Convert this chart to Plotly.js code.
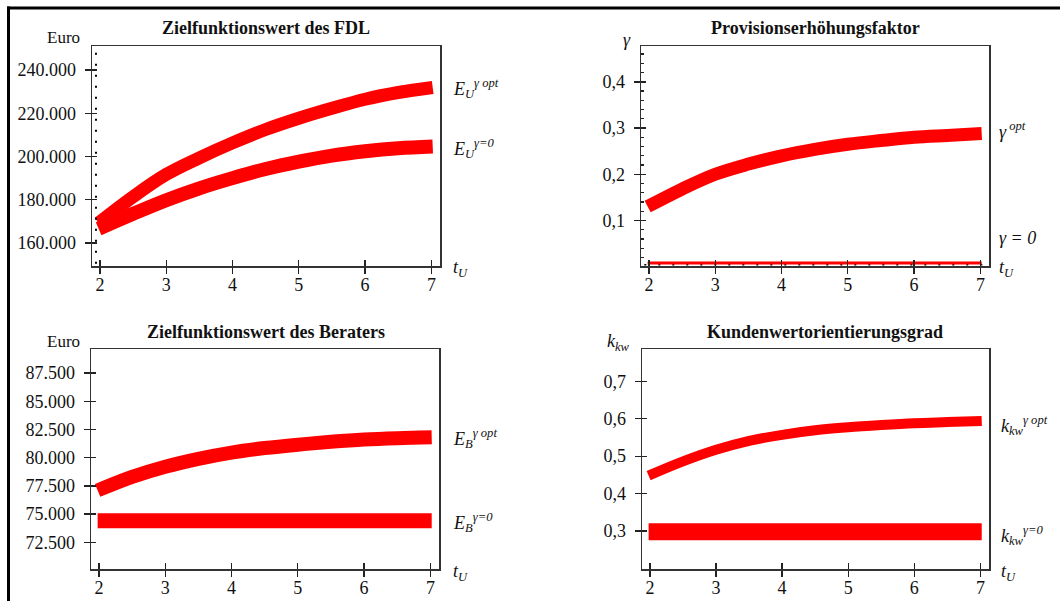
<!DOCTYPE html>
<html>
<head>
<meta charset="utf-8">
<script src="https://cdn.plot.ly/plotly-3.0.1.min.js"></script>
<style>html,body{margin:0;padding:0;background:#fff;}#chart{width:1060px;height:601px;}</style>
</head>
<body>
<div id="chart"></div>
<script>
// ---- data ----
const tU = [1.98, 2.5, 3, 3.5, 4, 4.5, 5, 5.5, 6, 6.5, 7.02];
const xTicks = [2, 3, 4, 5, 6, 7];

const EU_opt = [169300, 181400, 191700, 199400, 206300, 212500, 217700, 222300, 226500, 229600, 231900];
const EU_0   = [166600, 173500, 179800, 185300, 190000, 194200, 197600, 200400, 202400, 203800, 204600];
const EU_ticks = [160000, 180000, 200000, 220000, 240000];

const gamma_opt = [0.130, 0.168, 0.200, 0.222, 0.240, 0.254, 0.265, 0.273, 0.280, 0.284, 0.288];
const gamma_0   = [0.008, 0.008, 0.008, 0.008, 0.008, 0.008, 0.008, 0.008, 0.008, 0.008, 0.008];
const gamma_ticks = [0.1, 0.2, 0.3, 0.4];

const EB_opt = [77100, 78300, 79200, 79900, 80450, 80850, 81150, 81400, 81600, 81720, 81800];
const EB_0   = [74410, 74420, 74400, 74410, 74400, 74410, 74410, 74400, 74420, 74410, 74410];
const EB_ticks = [72500, 75000, 77500, 80000, 82500, 85000, 87500];

const kkw_opt = [0.448, 0.486, 0.517, 0.541, 0.557, 0.569, 0.577, 0.583, 0.588, 0.591, 0.594];
const kkw_0   = [0.298, 0.298, 0.298, 0.298, 0.298, 0.298, 0.298, 0.298, 0.298, 0.298, 0.298];
const kkw_ticks = [0.3, 0.4, 0.5, 0.6, 0.7];

const titles = ['Zielfunktionswert des FDL', 'Provisionserhöhungsfaktor', 'Zielfunktionswert des Beraters', 'Kundenwertorientierungsgrad'];

// ---- styling / layout ----
const W = 1060, H = 601;
const RED = '#ff0000';
const FONT = 'Liberation Serif';
const px = v => v / W;
const py = v => 1 - v / H;

function band(xa, ya, y, w) {
  return {x: tU, y: y, xaxis: xa, yaxis: ya, type: 'scatter', mode: 'lines',
    line: {color: RED, width: w, shape: 'spline'}, hoverinfo: 'skip', showlegend: false};
}
function dummy(xa, ya) {
  return {x: [], y: [], xaxis: xa, yaxis: ya, type: 'scatter', mode: 'lines', showlegend: false, hoverinfo: 'skip'};
}

const data = [
  band('x', 'y', EU_opt, 13), band('x', 'y', EU_0, 14),
  band('x2', 'y2', gamma_opt, 13), band('x2', 'y2', gamma_0, 3),
  band('x3', 'y3', EB_opt, 14), band('x3', 'y3', EB_0, 15),
  band('x4', 'y4', kkw_opt, 10), band('x4', 'y4', kkw_0, 17),
  dummy('x5', 'y5'), dummy('x6', 'y6'), dummy('x7', 'y7'), dummy('x8', 'y8')
];

const XR = [1.88, 7.13];
function xax(dom, anchor) {
  return {domain: dom, anchor: anchor, range: XR, tickvals: xTicks,
    ticks: 'outside', ticklen: 6, tickwidth: 1.3, tickcolor: '#222', ticklabelstandoff: -4,
    showline: true, mirror: true, linecolor: '#333', linewidth: 1.5,
    showgrid: false, zeroline: false, tickfont: {family: FONT, size: 18, color: '#111'}};
}
function yax(dom, anchor, range, tickvals, fmt) {
  return {domain: dom, anchor: anchor, range: range, tickvals: tickvals, tickformat: fmt,
    ticks: 'outside', ticklen: 6, tickwidth: 1.3, tickcolor: '#222', ticklabelstandoff: 5,
    showline: true, mirror: true, linecolor: '#333', linewidth: 1.5,
    showgrid: false, zeroline: false, tickfont: {family: FONT, size: 18, color: '#111'}};
}
// overlay axes carrying the inner half of the crossing ticks
function xin(over, anchor, dom) {
  return {overlaying: over, anchor: anchor, domain: dom, range: XR, tickvals: xTicks, ticks: 'inside',
    ticklen: 6, tickwidth: 1.3, tickcolor: '#222', showticklabels: false, showline: false,
    showgrid: false, zeroline: false, side: 'bottom'};
}
function yin(over, anchor, dom, range, tickvals) {
  return {overlaying: over, anchor: anchor, domain: dom, range: range, tickvals: tickvals, ticks: 'inside',
    ticklen: 5, tickwidth: 1.3, tickcolor: '#222', showticklabels: false, showline: false,
    showgrid: false, zeroline: false, side: 'left'};
}

const dTopY = [py(266), py(46)];
const dBotY = [py(569), py(349)];
const R1 = [149370, 251100], R2 = [0.0015, 0.4776], R3 = [70135, 89626], R4 = [0.1985, 0.7863];

function ann(x, y, text, opts) {
  return Object.assign({xref: 'paper', yref: 'paper', x: px(x), y: py(y), text: text,
    showarrow: false, xanchor: 'left', yanchor: 'middle',
    font: {family: FONT, size: 18, color: '#111'}}, opts || {});
}
const it = s => '<i>' + s + '</i>';

const annotations = [
  ann(266, 28, '<b>' + titles[0] + '</b>', {xanchor: 'center'}),
  ann(815, 28, '<b>' + titles[1] + '</b>', {xanchor: 'center'}),
  ann(266, 332, '<b>' + titles[2] + '</b>', {xanchor: 'center'}),
  ann(825, 332, '<b>' + titles[3] + '</b>', {xanchor: 'center'}),
  ann(63, 38, 'Euro', {xanchor: 'center', font: {family: FONT, size: 17, color: '#111'}}),
  ann(627, 40, it('γ'), {xanchor: 'center'}),
  ann(63, 341, 'Euro', {xanchor: 'center', font: {family: FONT, size: 17, color: '#111'}}),
  ann(618, 342, it('k<sub>kw</sub>'), {xanchor: 'center'}),
  ann(451, 89, it('E<sub>U</sub><sup>γ opt</sup>')),
  ann(451, 148, it('E<sub>U</sub><sup>γ=0</sup>')),
  ann(451, 268, it('t<sub>U</sub>')),
  ann(997, 130, it('γ<sup> opt</sup>')),
  ann(997, 238, it('γ = 0')),
  ann(997, 268, it('t<sub>U</sub>')),
  ann(451, 438, it('E<sub>B</sub><sup>γ opt</sup>')),
  ann(451, 522, it('E<sub>B</sub><sup>γ=0</sup>')),
  ann(451, 572, it('t<sub>U</sub>')),
  ann(999, 425, it('k<sub>kw</sub><sup>γ opt</sup>')),
  ann(999, 535, it('k<sub>kw</sub><sup>γ=0</sup>')),
  ann(999, 572, it('t<sub>U</sub>'))
];

const shapes = [
  {type: 'line', xref: 'paper', yref: 'paper', x0: px(8.5), x1: px(8.5), y0: 0, y1: py(6.5), line: {color: '#000', width: 3}},
  {type: 'line', xref: 'paper', yref: 'paper', x0: px(7), x1: 1, y0: py(8), y1: py(8), line: {color: '#000', width: 3}},
  {type: 'line', xref: 'x', yref: 'y domain', x0: 1.94, x1: 1.94, y0: 0.01, y1: 0.98, line: {color: '#000', width: 2, dash: '2px,9px'}},
  {type: 'line', xref: 'x2', yref: 'y2', x0: 1.93, x1: 7.1, y0: 0.004, y1: 0.004, line: {color: '#000', width: 1.5, dash: '2px,12px'}, layer: 'below'}
];

const layout = {
  width: W, height: H, margin: {l: 0, r: 0, t: 0, b: 0},
  paper_bgcolor: '#fff', plot_bgcolor: '#fff', separators: ',.',
  font: {family: FONT, size: 18, color: '#111'},
  showlegend: false,
  xaxis: xax([px(92), px(440)], 'y'),
  yaxis: yax(dTopY, 'x', R1, EU_ticks, ',d'),
  xaxis2: xax([px(641), px(989)], 'y2'),
  yaxis2: yax(dTopY, 'x2', R2, gamma_ticks, '.1f'),
  xaxis3: xax([px(91), px(439)], 'y3'),
  yaxis3: yax(dBotY, 'x3', R3, EB_ticks, ',d'),
  xaxis4: xax([px(642), px(989)], 'y4'),
  yaxis4: yax(dBotY, 'x4', R4, kkw_ticks, '.1f'),
  xaxis5: xin('x', 'y5', [px(92), px(440)]),
  yaxis5: yin('y', 'x5', dTopY, R1, EU_ticks),
  xaxis6: xin('x2', 'y6', [px(641), px(989)]),
  yaxis6: yin('y2', 'x6', dTopY, R2, gamma_ticks),
  xaxis7: xin('x3', 'y7', [px(91), px(439)]),
  yaxis7: yin('y3', 'x7', dBotY, R3, EB_ticks),
  xaxis8: xin('x4', 'y8', [px(642), px(989)]),
  yaxis8: yin('y4', 'x8', dBotY, R4, kkw_ticks),
  annotations: annotations,
  shapes: shapes
};
layout.yaxis2.minor = {ticks: 'inside', ticklen: 3, dtick: 0.02, tick0: 0, tickcolor: '#222'};

Plotly.newPlot('chart', data, layout, {staticPlot: true, displayModeBar: false});
</script>
</body>
</html>
